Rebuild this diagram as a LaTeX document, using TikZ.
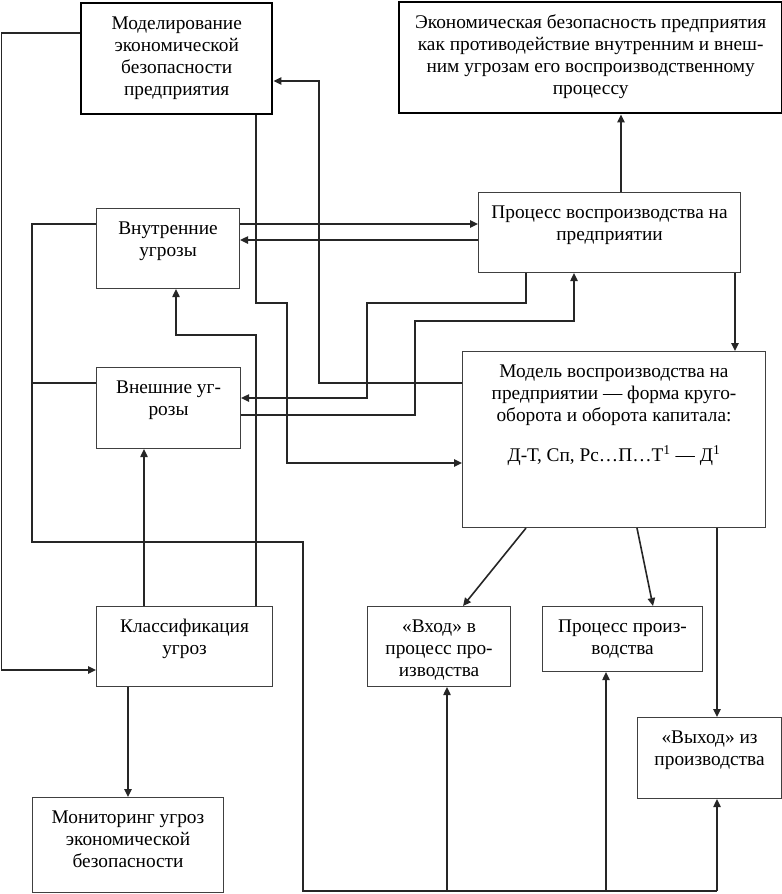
\documentclass[tikz,border=0pt]{standalone}
\usepackage{fontspec}
\setmainfont{Liberation Serif}
\usetikzlibrary{shapes,arrows.meta}

\begin{document}
\begin{tikzpicture}[x=0.75pt,y=-0.75pt]
    \tikzstyle{box}=[rectangle,draw=black!75,line width=0.8pt,anchor=north west,
      align=center,inner xsep=0pt,inner ysep=0pt,
      font=\fontsize{14.5pt}{16.5pt}\selectfont]
    \tikzstyle{mainbox}=[box,draw=black,line width=1.8pt]
    \tikzstyle{link}=[draw=black!85,line width=0.9pt]
    \tikzstyle{arr}=[link,line width=1.2pt,-{Triangle[length=6pt,width=5.5pt]}]
    \useasboundingbox (0,0) rectangle (782,894);

    \node[mainbox,minimum width=143.25pt,text height=69pt,text depth=14.25pt] (modeling) at (80,2)
      {Моделирование\\экономической\\безопасности\\предприятия};
    \node[mainbox,minimum width=287.25pt,text height=69pt,text depth=14.25pt] (security) at (398,1)
      {Экономическая безопасность предприятия\\как противодействие внутренним и внеш-\\ним угрозам его воспроизводственному\\процессу};
    \node[box,minimum width=107.25pt,text height=36pt,text depth=24pt] (internal) at (96,208)
      {Внутренние\\угрозы};
    \node[box,minimum width=196.5pt,text height=36pt,text depth=24pt] (reproc) at (478,192)
      {Процесс воспроизводства на\\предприятии};
    \node[box,minimum width=108pt,text height=36pt,text depth=24.75pt] (external) at (96,367)
      {Внешние уг-\\розы};
    \node[box,minimum width=227.25pt,text height=82.5pt,text depth=49.5pt] (model) at (462,351)
      {Модель воспроизводства на\\предприятии — форма круго-\\оборота и оборота капитала:\\[13.5pt]
       Д-Т, Сп, Рс…П…Т\textsuperscript{1} — Д\textsuperscript{1}};
    \node[box,minimum width=132pt,text height=36pt,text depth=24pt] (classif) at (96,606)
      {Классификация\\угроз};
    \node[box,minimum width=143.25pt,text height=52.5pt,text depth=18.75pt] (monitor) at (32,797)
      {Мониторинг угроз\\экономической\\безопасности};
    \node[box,minimum width=107.25pt,text height=52.5pt,text depth=7.5pt] (input) at (367,606)
      {«Вход» в\\процесс про-\\изводства};
    \node[box,minimum width=120pt,text height=36pt,text depth=12.75pt] (prodproc) at (542,606)
      {Процесс произ-\\водства};
    \node[box,minimum width=108pt,text height=36pt,text depth=24.75pt] (output) at (637,717)
      {«Выход» из\\производства};
    \coordinate (bus) at (303,891);

    % left side
    \draw[arr] (modeling.west |- 0,33) -| (1.5,670) -- (classif.west |- 0,670);
    \draw[arr] (modeling.south -| 256,0) -- (256,303) -| (287,463) -- (model.west |- 0,463);
    \draw[arr] (model.west |- 0,383) -| (319,81) -- (modeling.east |- 0,81);
    \draw[link] (internal.west |- 0,224) -| (32,542) -| (bus) -- (bus -| 717,0);
    \draw[link] (external.west |- 0,383) -- (32,383);

    % threats and reproduction
    \draw[arr] (internal.east |- 0,224) -- (reproc.west |- 0,224);
    \draw[arr] (reproc.west |- 0,240) -- (internal.east |- 0,240);
    \draw[arr] (reproc.south -| 526,0) -- (526,303) -| (367,398) -- (external.east |- 0,398);
    \draw[arr] (external.east |- 0,415) -| (415,321) -| (reproc.south -| 574,0);
    \draw[arr] (reproc.north -| 621,0) -- (security.south -| 621,0);
    \draw[arr] (reproc.south -| 735,0) -- (model.north -| 735,0);

    % classification
    \draw[arr] (classif.north -| 144,0) -- (external.south -| 144,0);
    \draw[arr] (classif.north -| 256,0) |- (176,335) -- (internal.south -| 176,0);
    \draw[arr] (classif.south -| 128,0) -- (monitor.north -| 128,0);

    % production
    \draw[arr] (model.south -| 526,0) -- (input.north -| 463,0);
    \draw[arr] (model.south -| 637,0) -- (prodproc.north -| 653,0);
    \draw[arr] (model.south -| 717,0) -- (output.north -| 717,0);
    \draw[arr] (bus -| 447,0) -- (input.south -| 447,0);
    \draw[arr] (bus -| 606,0) -- (prodproc.south -| 606,0);
    \draw[arr] (bus -| 717,0) -- (output.south -| 717,0);
  \end{tikzpicture}
\end{document}
